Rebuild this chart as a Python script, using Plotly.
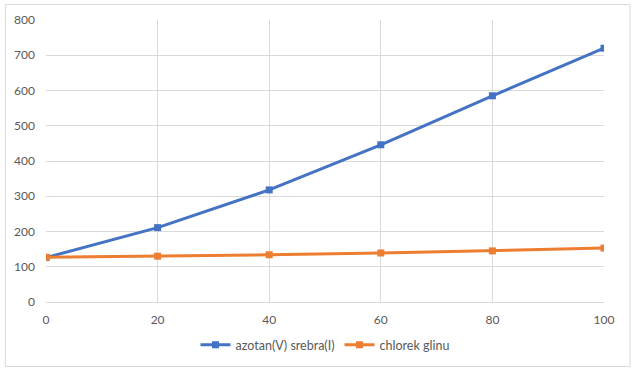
import plotly.graph_objects as go

x_values = [0, 20, 40, 60, 80, 100]
azotan = [126, 211, 318, 446, 585, 720]
chlorek = [127, 130, 134, 139, 145, 153]
series_names = ["azotan(V) srebra(I)", "chlorek glinu"]
y_ticks = [0, 100, 200, 300, 400, 500, 600, 700, 800]

W, H = 640, 375
L, R, T, B = 45.7, 36, 20, 73
pw, ph = W - L - R, H - T - B

def px_x(p):
    return (p - L) / pw

def px_y(p):
    return (H - B - p) / ph

fig = go.Figure()
fig.add_trace(go.Scatter(x=x_values, y=azotan, name=series_names[0], mode="lines+markers",
                         line=dict(color="#4472C4", width=3),
                         marker=dict(symbol="square", size=7, color="#4472C4")))
fig.add_trace(go.Scatter(x=x_values, y=chlorek, name=series_names[1], mode="lines+markers",
                         line=dict(color="#ED7D31", width=3),
                         marker=dict(symbol="square", size=7, color="#ED7D31")))

font = dict(family="Lato, Carlito, Calibri, sans-serif", size=12, color="#595959")

fig.update_layout(
    width=W, height=H,
    margin=dict(l=L, r=R, t=T, b=B, pad=0),
    paper_bgcolor="white", plot_bgcolor="white",
    font=font,
    showlegend=True,
    legend=dict(orientation="h", x=0.5, xanchor="center", y=px_y(345), yanchor="middle",
                font=dict(family="Lato, Carlito, Calibri, sans-serif", size=12.5, color="#595959"),
                itemwidth=30, tracegroupgap=0),
    xaxis=dict(range=[0, 100], tickvals=x_values, showgrid=True, gridcolor="#D9D9D9", gridwidth=1,
               zeroline=False, showline=False, ticks="", ticklabelstandoff=9, fixedrange=True),
    yaxis=dict(range=[0, 800], tickvals=y_ticks, showgrid=True, gridcolor="#D9D9D9", gridwidth=1,
               zeroline=True, zerolinecolor="#D9D9D9", zerolinewidth=1, showline=False, ticks="",
               ticklabelstandoff=10, fixedrange=True),
    shapes=[dict(type="rect", xref="paper", yref="paper",
                 x0=px_x(5), x1=px_x(630), y0=px_y(366.5), y1=px_y(4.5),
                 line=dict(color="#D9D9D9", width=1), fillcolor="rgba(0,0,0,0)", layer="below")],
)

fig.write_html("out.html", config={"displayModeBar": False, "staticPlot": True},
               post_script="document.body.style.margin='0';document.body.style.padding='0';")
